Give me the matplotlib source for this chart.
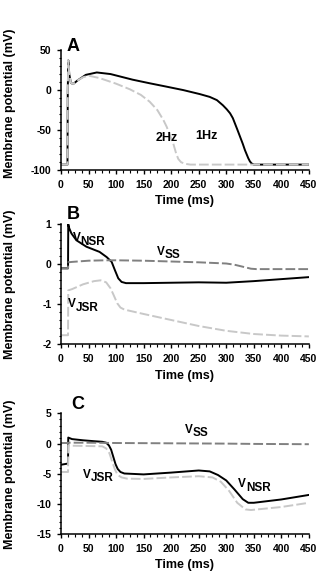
import matplotlib
matplotlib.use("Agg")
import matplotlib.pyplot as plt
from matplotlib.ticker import MultipleLocator

plt.rcParams["font.family"] = ["Liberation Sans", "DejaVu Sans"]
plt.rcParams["font.weight"] = "bold"
plt.rcParams["axes.unicode_minus"] = False

# Panel A: action potentials at 1 Hz and 2 Hz
t_1hz = [0, 11.8, 12.3, 13.3, 15, 18, 22, 30, 45, 65, 90, 130, 161, 190, 222, 252,
         270, 283, 294, 301, 307, 312, 316, 320, 325, 330, 334, 337, 340, 343,
         346, 350, 360, 450]
v_1hz = [-93, -93, 0, 37, 20, 9, 7.5, 12, 19, 22, 20, 13, 8.5, 4.5, 0, -5,
         -8.5, -12.5, -19, -24, -29, -35, -42, -49, -58, -67, -75, -80, -85, -89,
         -91.5, -93, -93, -93]
t_2hz = [0, 11.8, 12.3, 13.3, 15, 18, 22, 30, 40, 50, 70, 100, 125, 145, 161, 175,
         186, 192, 198, 204, 209, 213, 218, 225, 235, 450]
v_2hz = [-93, -93, 0, 37, 20, 9, 7.5, 12, 16, 18, 15, 8, 1, -6, -14.5, -25,
         -37.5, -46, -57, -67, -79, -86, -90, -92, -93, -93]

# Panel B
t_nsr_b = [0, 12.8, 13.2, 15, 19, 28, 46, 70, 83, 92, 98, 104, 110, 118, 150, 200,
           250, 300, 350, 400, 450]
v_nsr_b = [-0.1, -0.1, 1.0, 0.9, 0.77, 0.6, 0.44, 0.31, 0.18, 0.06, -0.15, -0.35,
           -0.44, -0.47, -0.47, -0.46, -0.45, -0.46, -0.42, -0.37, -0.32]
t_ss_b = [0, 12.8, 13.2, 20, 50, 80, 100, 150, 200, 250, 300, 315, 330, 345, 355, 450]
v_ss_b = [-0.1, -0.1, 0.05, 0.06, 0.09, 0.1, 0.1, 0.09, 0.07, 0.05, 0.02, -0.01,
          -0.06, -0.11, -0.12, -0.12]
t_jsr_b = [0, 12.8, 13.2, 20, 40, 60, 72, 82, 90, 96, 102, 108, 115, 150, 200, 250,
           300, 350, 400, 450]
v_jsr_b = [-1.77, -1.77, -0.65, -0.62, -0.5, -0.42, -0.4, -0.45, -0.6, -0.78, -0.97,
           -1.08, -1.13, -1.24, -1.39, -1.54, -1.66, -1.74, -1.78, -1.8]

# Panel C
t_nsr_c = [0, 12.8, 13.2, 20, 40, 60, 75, 82, 87, 91, 95, 99, 103, 108, 115, 150,
           200, 250, 270, 285, 300, 315, 330, 340, 350, 400, 450]
v_nsr_c = [-3.5, -3.3, 1.0, 0.75, 0.55, 0.4, 0.3, 0.15, -0.3, -1.0, -2.2, -3.4,
           -4.2, -4.7, -4.95, -5.1, -4.8, -4.45, -4.6, -5.2, -6.1, -7.6, -9.2,
           -9.8, -9.8, -9.25, -8.5]
t_ss_c = [0, 12.8, 13.2, 50, 100, 200, 300, 350, 450]
v_ss_c = [0.1, 0.1, 0.15, 0.15, 0.1, 0.05, 0.0, -0.05, -0.1]
t_jsr_c = [0, 12.8, 13.2, 20, 50, 75, 82, 88, 93, 98, 103, 110, 120, 150, 200, 250,
           275, 290, 305, 320, 335, 345, 400, 450]
v_jsr_c = [-4.7, -4.7, -0.25, -0.35, -0.4, -0.45, -0.8, -1.6, -3.0, -4.3, -5.2,
           -5.6, -5.8, -5.85, -5.6, -5.4, -5.6, -6.3, -7.8, -9.8, -10.9, -11.0,
           -10.5, -9.8]

light = "#c8c8c8"
dark = "#808080"
dash = (5, 1.6)

fig = plt.figure(figsize=(3.27, 5.75), dpi=100)
axA = fig.add_axes([0.1865, 0.704, 0.758, 0.209])
axB = fig.add_axes([0.1865, 0.401, 0.758, 0.209])
axC = fig.add_axes([0.1865, 0.071, 0.758, 0.210])


def style(ax, ylim, ymajor, yminor, letter, lx, ly, label_y):
    ax.set_xlim(0, 450)
    ax.set_ylim(*ylim)
    ax.xaxis.set_major_locator(MultipleLocator(50))
    ax.xaxis.set_minor_locator(MultipleLocator(12.5))
    ax.yaxis.set_major_locator(MultipleLocator(ymajor))
    ax.yaxis.set_minor_locator(MultipleLocator(yminor))
    for s in ["top", "right"]:
        ax.spines[s].set_visible(False)
    for s in ["left", "bottom"]:
        ax.spines[s].set_linewidth(1.1)
    ax.tick_params(which="major", direction="out", length=3, width=1, labelsize=7.5, pad=4)
    ax.tick_params(which="minor", direction="out", length=1.8, width=0.8)
    ax.set_xlabel("Time (ms)", fontsize=9, fontweight="bold", labelpad=4)
    ax.set_ylabel("Membrane potential (mV)", fontsize=9, fontweight="bold")
    ax.yaxis.set_label_coords(-0.18, label_y)
    ax.text(lx, ly, letter, transform=ax.transAxes, fontsize=13, fontweight="bold",
            va="center", ha="left")


def vlabel(ax, x, y, sub):
    ax.text(x, y, "V", fontsize=8.5, fontweight="bold", ha="left", va="center")
    ax.annotate(sub, xy=(x, y), xytext=(5.6, -2.4), textcoords="offset points",
                fontsize=8.5, fontweight="bold", ha="left", va="center")


# A
axA.plot(t_1hz, v_1hz, color="black", lw=1.4)
axA.plot(t_2hz, v_2hz, color=light, lw=1.4, dashes=dash)
style(axA, (-100, 50), 50, 10, "A", 0.023, 1.03, 0.558)
axA.text(192, -59.4, "2Hz", fontsize=9, fontweight="bold", ha="center", va="center")
axA.text(263.5, -57.5, "1Hz", fontsize=9, fontweight="bold", ha="center", va="center")

# B
axB.plot(t_nsr_b, v_nsr_b, color="black", lw=1.4)
axB.plot(t_ss_b, v_ss_b, color=dark, lw=1.4, dashes=dash)
axB.plot(t_jsr_b, v_jsr_b, color=light, lw=1.4, dashes=dash)
style(axB, (-2, 1), 1, 0.2, "B", 0.023, 1.083, 0.5)
vlabel(axB, 21.2, 0.65, "NSR")
vlabel(axB, 173.6, 0.31, "SS")
vlabel(axB, 13.3, -1.0, "JSR")

# C
axC.plot(t_nsr_c, v_nsr_c, color="black", lw=1.4)
axC.plot(t_ss_c, v_ss_c, color=dark, lw=1.4, dashes=dash)
axC.plot(t_jsr_c, v_jsr_c, color=light, lw=1.4, dashes=dash)
style(axC, (-15, 5), 5, 1, "C", 0.043, 1.075, 0.5)
vlabel(axC, 225, 2.24, "SS")
vlabel(axC, 39.3, -5.2, "JSR")
vlabel(axC, 321.8, -6.77, "NSR")

fig.savefig("out.png", dpi=100)
